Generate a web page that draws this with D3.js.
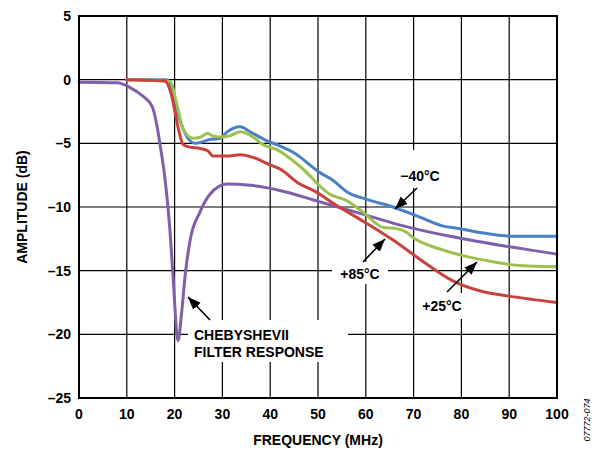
<!DOCTYPE html>
<html lang="en">
<head>
<meta charset="UTF-8">
<title>Amplitude vs Frequency</title>
<style>
  body { margin: 0; background: #fff; }
  text { font-family: "Liberation Sans", Arial, sans-serif; font-weight: bold; fill: #000; }
</style>
<script src="https://d3js.org/d3.v7.min.js"></script>
</head>
<body>
<div id="chart"></div>
<script>
// ---- data ----
var xTicks = [0, 10, 20, 30, 40, 50, 60, 70, 80, 90, 100];
var yTicks = [5, 0, -5, -10, -15, -20, -25];

var freqM40 = [10, 18.4, 20.3, 22.6, 24.3, 27.4, 29.5, 31, 33.7, 35.8, 39.3, 42, 44.8, 50.4, 53.1, 56, 60.2, 65.7, 71.3, 76.2, 79.7, 83.9, 90.8, 100];
var ampM40  = [0, 0, -2.3, -4.5, -5, -4.7, -4.6, -4.1, -3.7, -4.1, -4.8, -5.2, -5.7, -7.3, -7.9, -8.8, -9.4, -10, -10.8, -11.5, -11.7, -12, -12.3, -12.3];

var freqP25 = [10, 19, 20.7, 21.8, 23.8, 25.5, 26.9, 27.8, 29.5, 31.6, 33.7, 36.4, 38.5, 41.4, 46.2, 52.5, 56, 59.4, 63.6, 66.5, 68.6, 69.9, 75.5, 81.2, 86.6, 92.3, 100];
var ampP25  = [0, -0.15, -2.3, -3.9, -4.6, -4.5, -4.2, -4.4, -4.5, -4.4, -4.1, -4.5, -5.1, -5.5, -6.8, -9, -9.5, -10.4, -11.6, -11.7, -12, -12.4, -13.3, -13.9, -14.3, -14.6, -14.7];

var freqP85 = [10, 18, 19.4, 20.7, 21.8, 23.2, 25.3, 27, 28, 31, 33.7, 36.4, 40, 42, 46.2, 49, 54, 59.8, 65.7, 71.3, 78.2, 84, 90, 100];
var ampP85  = [0, -0.1, -1.3, -3.7, -5.1, -5.3, -5.4, -5.6, -6, -6, -5.9, -6.1, -6.7, -7, -8.2, -8.7, -9.9, -11.2, -12.6, -14.1, -15.8, -16.6, -17, -17.5];

var freqCheb = [0, 8, 10.6, 13.4, 15.3, 16.3, 17, 18, 19, 19.7, 20.7, 21.5, 22.2, 23.2, 25.3, 27.4, 31, 35.8, 42, 50.4, 58.8, 67, 77.6, 88, 100];
var ampCheb  = [-0.2, -0.25, -0.6, -1.3, -2.1, -3.6, -5.2, -7.8, -11.7, -15.6, -20.5, -18.2, -15.4, -12.7, -10.4, -9, -8.2, -8.3, -8.7, -9.6, -10.5, -11.4, -12.3, -13, -13.7];

// draw order: purple, blue, green, red (red on top, as in the original)
var series = [
  { name: "cheb", color: "#7f5fa9", f: freqCheb, a: ampCheb },
  { name: "m40",  color: "#4a80c4", f: freqM40,  a: ampM40 },
  { name: "p25",  color: "#9bc24f", f: freqP25,  a: ampP25 },
  { name: "p85",  color: "#c9423d", f: freqP85,  a: ampP85 }
];

// ---- layout ----
var W = 597, H = 452;
var pLeft = 79, pRight = 557, pTop = 16, pBottom = 398;

var svg = d3.select("#chart").append("svg")
  .attr("width", W).attr("height", H);

var x = d3.scaleLinear().domain([0, 100]).range([pLeft, pRight]);
var y = d3.scaleLinear().domain([-25, 5]).range([pBottom, pTop]);

// grid
var grid = svg.append("g");
grid.selectAll("line.v").data(xTicks.slice(1, -1)).enter().append("line")
  .attr("x1", function(d) { return x(d); }).attr("x2", function(d) { return x(d); })
  .attr("y1", pTop).attr("y2", pBottom)
  .attr("stroke", "#000").attr("stroke-width", 1.2);
grid.selectAll("line.h").data(yTicks.slice(1, -1)).enter().append("line")
  .attr("y1", function(d) { return y(d); }).attr("y2", function(d) { return y(d); })
  .attr("x1", pLeft).attr("x2", pRight)
  .attr("stroke", "#000").attr("stroke-width", 1.2);

// white boxes for annotation labels (break the grid)
var boxes = [
  [188, 320, 160, 42],
  [395, 150, 50, 38],
  [332, 262, 56, 22],
  [416, 293, 52, 26]
];
svg.selectAll("rect.box").data(boxes).enter().append("rect")
  .attr("x", function(d) { return d[0]; }).attr("y", function(d) { return d[1]; })
  .attr("width", function(d) { return d[2]; }).attr("height", function(d) { return d[3]; })
  .attr("fill", "#fff");

// curves
var line = d3.line()
  .x(function(d) { return x(d[0]); })
  .y(function(d) { return y(d[1]); })
  .curve(d3.curveMonotoneX);

svg.selectAll("path.s").data(series).enter().append("path")
  .attr("d", function(s) { return line(d3.zip(s.f, s.a)); })
  .attr("fill", "none")
  .attr("stroke", function(s) { return s.color; })
  .attr("stroke-width", 3)
  .attr("stroke-linejoin", "round")
  .attr("stroke-linecap", "round");

// frame
svg.append("rect")
  .attr("x", pLeft).attr("y", pTop)
  .attr("width", pRight - pLeft).attr("height", pBottom - pTop)
  .attr("fill", "none").attr("stroke", "#000").attr("stroke-width", 2);

// tick labels
svg.selectAll("text.xt").data(xTicks).enter().append("text")
  .attr("x", function(d) { return x(d); }).attr("y", 419)
  .attr("text-anchor", "middle").attr("font-size", "14px")
  .text(function(d) { return d; });
svg.selectAll("text.yt").data(yTicks).enter().append("text")
  .attr("x", 71).attr("y", function(d) { return y(d) + 5; })
  .attr("text-anchor", "end").attr("font-size", "14px")
  .text(function(d) { return d < 0 ? "\u2013" + Math.abs(d) : d; });

// axis titles
svg.append("text")
  .attr("x", (pLeft + pRight) / 2).attr("y", 445)
  .attr("text-anchor", "middle").attr("font-size", "14px")
  .text("FREQUENCY (MHz)");
svg.append("text")
  .attr("transform", "translate(27," + ((pTop + pBottom) / 2) + ") rotate(-90)")
  .attr("text-anchor", "middle").attr("font-size", "14px")
  .text("AMPLITUDE (dB)");
svg.append("text")
  .attr("transform", "translate(590,420) rotate(-90)")
  .attr("text-anchor", "middle").attr("font-size", "9px")
  .style("font-weight", "normal").style("font-style", "italic")
  .text("07772-074");

// annotations
var defs = svg.append("defs");
defs.append("marker")
  .attr("id", "arr").attr("viewBox", "0 0 10 10")
  .attr("refX", 10).attr("refY", 5)
  .attr("markerWidth", 8).attr("markerHeight", 8)
  .attr("orient", "auto")
  .append("path").attr("d", "M0,1 L10,5 L0,9 Z").attr("fill", "#000");

var arrows = [
  [210, 320, 188, 297],
  [417, 188, 395, 209],
  [363, 262, 385, 239],
  [447, 292, 477, 262]
];
svg.selectAll("line.arr").data(arrows).enter().append("line")
  .attr("x1", function(d) { return d[0]; }).attr("y1", function(d) { return d[1]; })
  .attr("x2", function(d) { return d[2]; }).attr("y2", function(d) { return d[3]; })
  .attr("stroke", "#000").attr("stroke-width", 1.6)
  .attr("marker-end", "url(#arr)");

var labels = [
  ["CHEBYSHEVII", 194, 340, "start"],
  ["FILTER RESPONSE", 194, 357, "start"],
  ["\u221240\u00B0C", 420, 181, "middle"],
  ["+85\u00B0C", 360, 279, "middle"],
  ["+25\u00B0C", 442, 311, "middle"]
];
svg.selectAll("text.lab").data(labels).enter().append("text")
  .attr("x", function(d) { return d[1]; }).attr("y", function(d) { return d[2]; })
  .attr("text-anchor", function(d) { return d[3]; })
  .attr("font-size", "14px")
  .text(function(d) { return d[0]; });
</script>
</body>
</html>
